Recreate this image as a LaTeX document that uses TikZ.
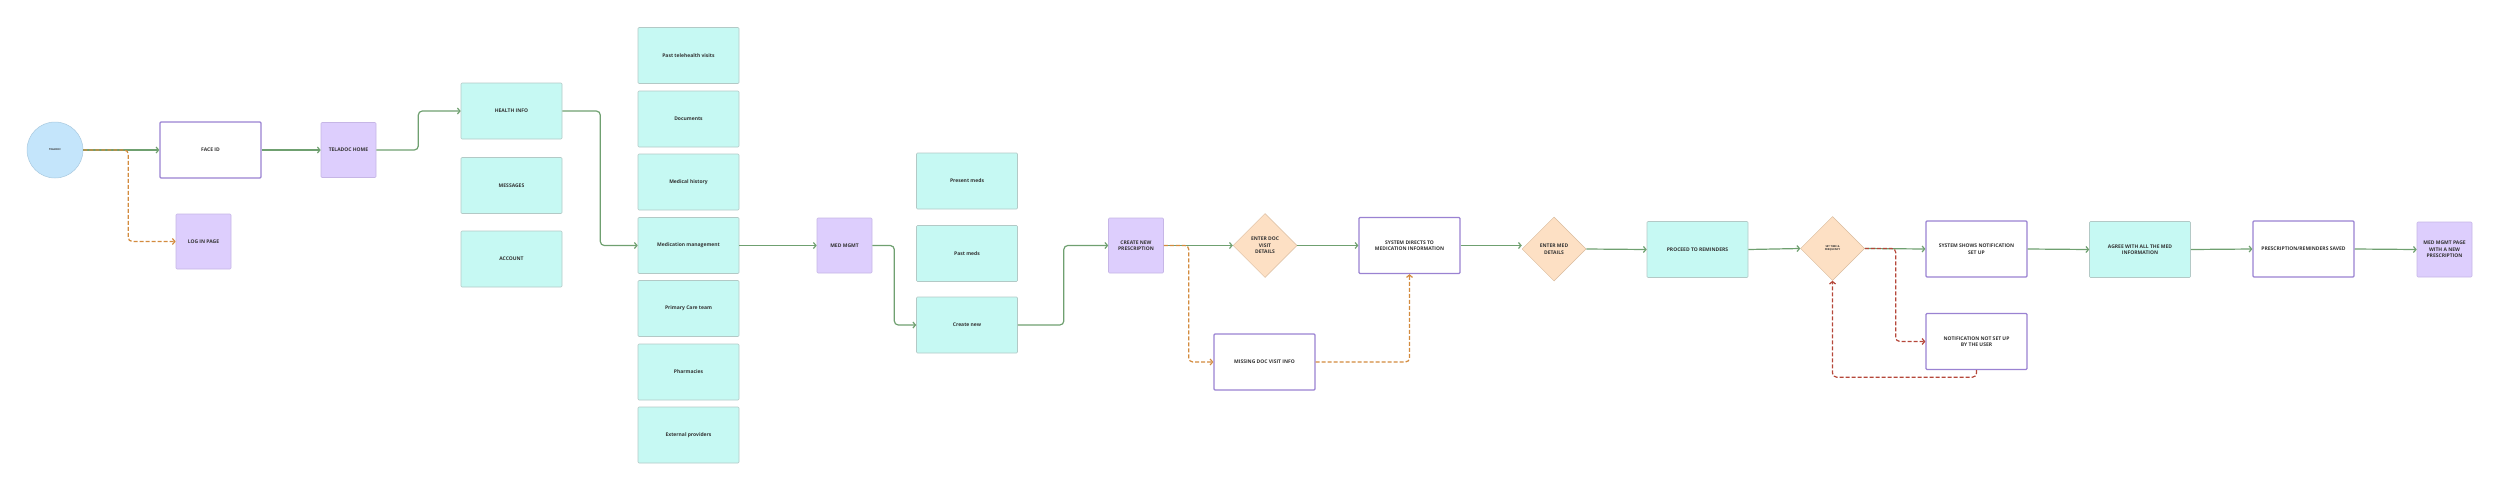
\documentclass[tikz,border=0pt]{standalone}
\usepackage{fontspec}
\setmainfont{Open Sans}
\usetikzlibrary{arrows.meta,shapes.geometric}

\definecolor{flowgreen}{HTML}{6FA070}
\definecolor{flowor}{HTML}{D38B3E}
\definecolor{flowred}{HTML}{B5473A}
\definecolor{cyanfill}{HTML}{C6F9F3}
\definecolor{cyanline}{HTML}{B3C9C6}
\definecolor{lavfill}{HTML}{DDCEFD}
\definecolor{lavline}{HTML}{C6B6E6}
\definecolor{purpline}{HTML}{9A82D2}
\definecolor{skyfill}{HTML}{C4E5FB}
\definecolor{skyline}{HTML}{A9C9DF}
\definecolor{peachfill}{HTML}{FDE0C4}
\definecolor{peachline}{HTML}{D9BB9C}
\definecolor{txt}{HTML}{333333}

\begin{document}
\begin{tikzpicture}[x=1pt,y=-1pt,
	every node/.style={text=txt,font=\fontsize{5}{6.5}\selectfont\bfseries,align=center,inner sep=1pt},
	wide/.style={rectangle,rounded corners=1pt,minimum width=101pt,minimum height=56pt},
	page/.style={wide,fill=cyanfill,draw=cyanline,line width=0.6pt},
	screen/.style={rectangle,rounded corners=1pt,minimum width=55pt,minimum height=55pt,fill=lavfill,draw=lavline,line width=0.6pt},
	sysbox/.style={wide,fill=white,draw=purpline,line width=1.3pt},
	choice/.style={diamond,aspect=1,minimum width=64pt,minimum height=64pt,inner sep=0pt,fill=peachfill,draw=peachline,line width=0.5pt},
	flow/.style={draw=flowgreen,line width=1.2pt,rounded corners=4pt,-{Straight Barb[length=2.5pt,width=6pt]}},
	alt/.style={draw=flowor,line width=1.2pt,dashed,dash pattern=on 4pt off 2pt,rounded corners=4pt,-{Straight Barb[length=2.5pt,width=6pt]}},
	fail/.style={draw=flowred,line width=1.2pt,dashed,dash pattern=on 4pt off 2pt,rounded corners=4pt,-{Straight Barb[length=2.5pt,width=6pt]}}]

	\useasboundingbox (0,0) rectangle (2500,491);

	% start and login
	\node [circle,minimum size=56pt,fill=skyfill,draw=skyline,line width=0.5pt,font=\fontsize{2.6}{3}\selectfont\bfseries] (tel) at (55,150) {TELADOC};
	\node [sysbox] (faceid) at (210.5,150) {FACE ID};
	\node [screen] (home) at (348.5,150) {TELADOC HOME};
	\node [screen] (login) at (203.5,241.5) {LOG IN PAGE};

	% home menu
	\node [page] (hinfo) at (511.5,111) {HEALTH INFO};
	\node [page] (msgs) at (511.5,185.5) {MESSAGES};
	\node [page] (account) at (511.5,259) {ACCOUNT};

	% health info menu
	\node [page] (visits) at (688.5,55.5) {Past telehealth visits};
	\node [page] (docs) at (688.5,119) {Documents};
	\node [page] (medhist) at (688.5,182) {Medical history};
	\node [page] (medman) at (688.5,245.5) {Medication management};
	\node [page] (pcare) at (688.5,308.5) {Primary Care team};
	\node [page] (pharm) at (688.5,372) {Pharmacies};
	\node [page] (extprov) at (688.5,435) {External providers};

	% medication management
	\node [screen] (medmgmt) at (844.5,245.5) {MED MGMT};
	\node [page] (present) at (967,181) {Present meds};
	\node [page] (pastmeds) at (967,253.5) {Past meds};
	\node [page] (createnew) at (967,325) {Create new};
	\node [screen] (cnp) at (1136,245.5) {CREATE NEW\\PRESCRIPTION};

	% prescription steps
	\node [choice] (enterdoc) at (1265,245.5) {ENTER DOC\\VISIT\\DETAILS};
	\node [sysbox] (sysdir) at (1409.5,245.5) {SYSTEM DIRECTS TO\\MEDICATION INFORMATION};
	\node [sysbox] (missing) at (1264.5,362) {MISSING DOC VISIT INFO};
	\node [choice] (entermed) at (1554,249) {ENTER MED\\DETAILS};
	\node [page] (proceed) at (1697.5,249.5) {PROCEED TO REMINDERS};
	\node [choice,font=\fontsize{2.6}{3.2}\selectfont\bfseries] (settime) at (1832.5,248.5) {SET TIME \&\\FREQUENCY};
	\node [sysbox] (sysshows) at (1976.5,249) {SYSTEM SHOWS NOTIFICATION\\SET UP};
	\node [sysbox] (notset) at (1976.5,341.5) {NOTIFICATION NOT SET UP\\BY THE USER};
	\node [page] (agree) at (2140,249.5) {AGREE WITH ALL THE MED\\INFORMATION};
	\node [sysbox] (saved) at (2303.5,249) {PRESCRIPTION/REMINDERS SAVED};
	\node [screen] (final) at (2444.5,249.5) {MED MGMT PAGE\\WITH A NEW\\PRESCRIPTION};

	% connectors
	\draw [flow] (tel.east) -- (faceid.west);
	\draw [alt] (tel.east) -- ++(45,0) |- (login.west);
	\draw [flow] (faceid.east) -- (home.west);
	\draw [flow] (home.east) -- ++(42,0) |- (hinfo.west);
	\draw [flow] (hinfo.east) -- ++(38,0) |- (medman.west);
	\draw [flow] (medman.east) -- (medmgmt.west);
	\draw [flow] (medmgmt.east) -- ++(22,0) |- (createnew.west);
	\draw [flow] (createnew.east) -- ++(46,0) |- (cnp.west);
	\draw [flow] (cnp.east) -- (enterdoc.west);
	\draw [alt] (cnp.east) -- ++(25,0) |- (missing.west);
	\draw [flow] (enterdoc.east) -- (sysdir.west);
	\draw [alt] (missing.east) -| (sysdir.south);
	\draw [flow] (sysdir.east) -- (sysdir.east -| entermed.west);
	\draw [flow] (entermed.east) -- (proceed.west);
	\draw [flow] (proceed.east) -- (settime.west);
	\draw [flow] (settime.east) -- (sysshows.west);
	\draw [fail] (settime.east) -- ++(31,0) |- (notset.west);
	\draw [fail] (notset.south) -- ++(0,7) -| (settime.south);
	\draw [flow] (sysshows.east) -- (agree.west);
	\draw [flow] (agree.east) -- (saved.west);
	\draw [flow] (saved.east) -- (final.west);

\end{tikzpicture}
\end{document}
